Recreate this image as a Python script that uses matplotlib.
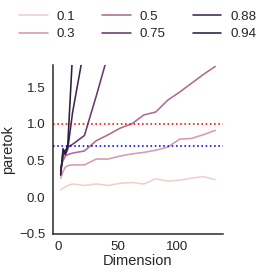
import numpy as np
import pandas as pd
import matplotlib
matplotlib.use("Agg")
import matplotlib.pyplot as plt
import seaborn as sns

# Dimensionen und geschätzte k-Werte je Stufe
dims = [2, 4, 6, 8, 12, 22, 32, 42, 52, 62, 72, 82, 92, 102, 112, 122, 132]
levels = [0.1, 0.3, 0.5, 0.75, 0.88, 0.94]

k_01 = [0.10, 0.12, 0.14, 0.16, 0.18, 0.16, 0.18, 0.16, 0.19, 0.20, 0.18, 0.25, 0.22, 0.23, 0.26, 0.28, 0.24]
k_03 = [0.26, 0.35, 0.41, 0.43, 0.44, 0.44, 0.52, 0.52, 0.56, 0.59, 0.61, 0.64, 0.68, 0.79, 0.80, 0.85, 0.91]
k_05 = [0.40, 0.50, 0.56, 0.58, 0.60, 0.63, 0.77, 0.85, 0.94, 1.00, 1.12, 1.16, 1.32, 1.43, 1.55, 1.67, 1.78]
k_075 = [0.36, 0.55, 0.64, 0.68, 0.72, 0.84, 1.38, 1.95, 2.5, 3.0, 3.5, 4.0, 4.5, 5.0, 5.6, 6.1, 6.7]
k_088 = [0.32, 0.62, 0.58, 0.66, 1.15, 2.05, 2.9, 3.8, 4.6, 5.5, 6.3, 7.2, 8.0, 8.9, 9.8, 10.6, 11.5]
k_094 = [0.30, 0.66, 0.60, 0.72, 1.95, 3.4, 4.9, 6.3, 7.8, 9.2, 10.7, 12.1, 13.6, 15.0, 16.5, 17.9, 19.4]

series = [k_01, k_03, k_05, k_075, k_088, k_094]
rows = []
for lev, vals in zip(levels, series):
    for d, v in zip(dims, vals):
        rows.append({"Dimension": d, "paretok": v, "alpha": lev})
df = pd.DataFrame(rows)

sns.set_style("white")
plt.rcParams["font.family"] = ["Liberation Sans", "DejaVu Sans"]

fig = plt.figure(figsize=(266 / 72, 273 / 72), dpi=72)
ax = fig.add_axes([0.199, 0.143, 0.639, 0.619])

sns.lineplot(data=df, x="Dimension", y="paretok", hue="alpha", legend="full",
             linewidth=1.6, ax=ax)
ax.axhline(1.0, color="r", linestyle=":", linewidth=1.6)
ax.axhline(0.7, color="b", linestyle=":", linewidth=1.6)

ax.set_ylim(-0.5, 1.8)
ax.set_yticks([-0.5, 0.0, 0.5, 1.0, 1.5])
ax.set_xticks([0, 50, 100])
ax.tick_params(labelsize=13.4, pad=4)
ax.set_xlabel("Dimension", fontsize=14.6, labelpad=1)
ax.set_ylabel("paretok", fontsize=14.6, labelpad=4)
for s in ax.spines.values():
    s.set_linewidth(1.5)
sns.despine(ax=ax)

sns.move_legend(ax, "lower center", bbox_to_anchor=(0.5, 1.09), ncol=3,
                title=None, frameon=False, fontsize=13.4, handlelength=2.1,
                handletextpad=0.7, labelspacing=0.4, borderpad=0.2)

fig.savefig("out.png", dpi=72)
